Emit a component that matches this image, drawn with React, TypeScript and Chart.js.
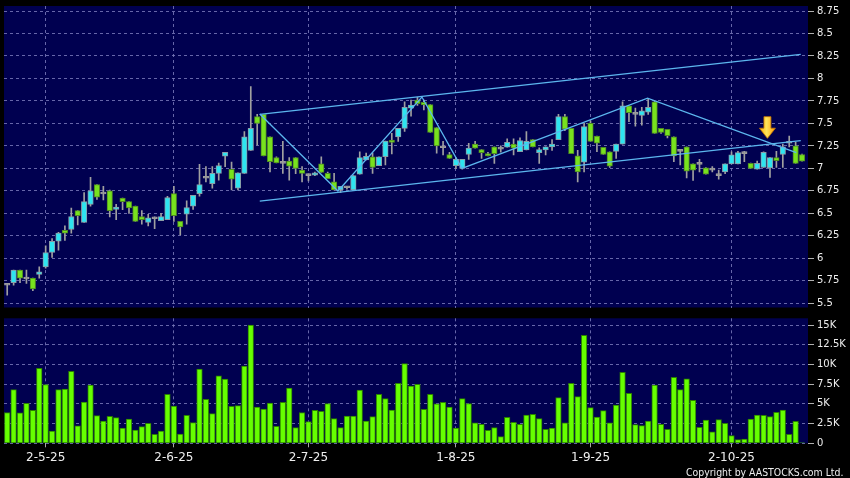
import React, { useEffect, useRef } from "react";
import { Chart, registerables } from "chart.js";

Chart.register(...registerables);

// ---------- data ----------
const dateLabels = ["2-5-25", "2-6-25", "2-7-25", "1-8-25", "1-9-25", "2-10-25"];
const dateIndex = [6, 26, 47, 70, 91, 113];

const opens = [
  5.70, 5.73, 5.87, 5.77, 5.78, 5.82, 5.905, 6.065, 6.19, 6.31,
  6.32, 6.53, 6.40, 6.60, 6.82, 6.715, 6.75, 6.545, 6.67, 6.63,
  6.58, 6.465, 6.40, 6.44, 6.42, 6.43, 6.72, 6.41, 6.49, 6.58,
  6.72, 6.89, 6.83, 6.945, 7.135, 6.99, 6.78, 6.945, 7.20, 7.575,
  7.60, 7.35, 7.12, 7.055, 7.08, 7.12, 6.98, 6.92, 6.925, 7.05,
  6.945, 6.85, 6.76, 6.785, 6.76, 6.935, 7.095, 7.13, 7.03, 7.13,
  7.315, 7.35, 7.445, 7.67, 7.76, 7.735, 7.71, 7.455, 7.23, 7.155,
  7.03, 7.00, 7.155, 7.27, 7.21, 7.165, 7.24, 7.215, 7.235, 7.27,
  7.185, 7.205, 7.32, 7.175, 7.205, 7.24, 7.32, 7.575, 7.445, 7.14,
  7.07, 7.50, 7.36, 7.235, 7.185, 7.19, 7.27, 7.695, 7.60, 7.59,
  7.625, 7.74, 7.445, 7.435, 7.35, 7.19, 7.24, 7.05, 7.045, 7.005,
  6.98, 6.92, 6.96, 7.05, 7.05, 7.165, 7.055, 6.99, 7.01, 7.005,
  7.12, 7.155, 7.28, 7.25, 7.155,
];
const highs = [
  5.72, 5.87, 5.87, 5.87, 5.78, 5.905, 6.14, 6.22, 6.29, 6.36,
  6.56, 6.53, 6.73, 6.90, 6.82, 6.80, 6.76, 6.60, 6.67, 6.63,
  6.58, 6.53, 6.49, 6.46, 6.50, 6.69, 6.80, 6.41, 6.64, 6.70,
  7.045, 7.02, 7.02, 7.06, 7.18, 7.07, 6.95, 7.41, 7.91, 7.60,
  7.60, 7.35, 7.13, 7.30, 7.12, 7.12, 7.02, 6.94, 6.96, 7.13,
  6.96, 6.945, 6.80, 6.80, 6.92, 7.185, 7.17, 7.17, 7.13, 7.305,
  7.39, 7.445, 7.74, 7.76, 7.79, 7.76, 7.71, 7.455, 7.30, 7.18,
  7.12, 7.10, 7.28, 7.30, 7.21, 7.18, 7.24, 7.25, 7.33, 7.33,
  7.34, 7.41, 7.32, 7.23, 7.24, 7.32, 7.60, 7.60, 7.445, 7.20,
  7.50, 7.53, 7.36, 7.235, 7.185, 7.27, 7.74, 7.695, 7.67, 7.68,
  7.78, 7.75, 7.445, 7.435, 7.35, 7.21, 7.24, 7.05, 7.10, 7.01,
  7.02, 6.98, 7.05, 7.185, 7.19, 7.19, 7.06, 7.08, 7.185, 7.12,
  7.19, 7.27, 7.36, 7.29, 7.16,
];
const lows = [
  5.59, 5.70, 5.73, 5.72, 5.64, 5.78, 5.89, 6.01, 6.09, 6.20,
  6.28, 6.37, 6.40, 6.58, 6.655, 6.65, 6.46, 6.43, 6.54, 6.50,
  6.41, 6.38, 6.36, 6.33, 6.42, 6.43, 6.41, 6.26, 6.38, 6.545,
  6.69, 6.85, 6.78, 6.87, 7.02, 6.76, 6.76, 6.945, 7.20, 7.26,
  7.14, 6.96, 7.06, 6.945, 6.87, 6.94, 6.85, 6.86, 6.92, 6.955,
  6.885, 6.76, 6.73, 6.77, 6.76, 6.935, 7.095, 6.945, 7.03, 7.04,
  7.16, 7.30, 7.41, 7.58, 7.70, 7.65, 7.40, 7.17, 7.15, 7.11,
  7.00, 6.99, 7.10, 7.225, 7.11, 7.14, 7.055, 7.18, 7.235, 7.15,
  7.185, 7.205, 7.24, 7.055, 7.15, 7.20, 7.32, 7.42, 7.165, 6.85,
  6.96, 7.30, 7.185, 7.155, 7.01, 7.11, 7.27, 7.52, 7.47, 7.48,
  7.60, 7.39, 7.39, 7.34, 7.075, 7.04, 6.895, 6.865, 6.96, 6.935,
  6.96, 6.88, 6.94, 7.05, 7.05, 7.075, 7.00, 6.99, 7.01, 6.90,
  7.01, 7.01, 7.24, 7.055, 7.08,
];
const closes = [
  5.70, 5.87, 5.78, 5.77, 5.66, 5.85, 6.065, 6.19, 6.28, 6.28,
  6.465, 6.475, 6.63, 6.75, 6.68, 6.715, 6.53, 6.57, 6.63, 6.56,
  6.41, 6.43, 6.45, 6.44, 6.465, 6.675, 6.475, 6.35, 6.565, 6.70,
  6.82, 6.89, 6.945, 7.03, 7.18, 6.88, 6.95, 7.35, 7.445, 7.50,
  7.14, 7.075, 7.06, 7.055, 7.025, 7.00, 6.945, 6.92, 6.95, 6.955,
  6.885, 6.76, 6.80, 6.785, 6.92, 7.12, 7.135, 7.01, 7.13, 7.305,
  7.29, 7.445, 7.68, 7.705, 7.72, 7.705, 7.40, 7.25, 7.23, 7.11,
  7.10, 7.10, 7.225, 7.225, 7.175, 7.14, 7.165, 7.215, 7.29, 7.225,
  7.31, 7.30, 7.24, 7.21, 7.24, 7.27, 7.575, 7.435, 7.165, 6.96,
  7.465, 7.30, 7.28, 7.155, 7.025, 7.27, 7.695, 7.62, 7.60, 7.64,
  7.68, 7.39, 7.40, 7.365, 7.14, 7.19, 6.97, 6.98, 7.045, 6.935,
  6.98, 6.92, 7.05, 7.15, 7.175, 7.165, 7.00, 7.055, 7.18, 7.12,
  7.085, 7.24, 7.28, 7.055, 7.08,
];
// volume in thousands of shares
const volumes = [
  3.9, 6.8, 3.85, 5.07, 4.18, 9.5, 7.43, 1.56, 6.8, 6.88,
  9.12, 2.2, 5.24, 7.39, 3.5, 2.83, 3.42, 3.25, 1.94, 3.08,
  1.69, 2.11, 2.53, 1.14, 1.56, 6.2, 4.73, 1.18, 3.55, 2.62,
  9.42, 5.57, 3.76, 8.57, 8.15, 4.69, 4.77, 9.8, 15.0, 4.6,
  4.35, 5.1, 2.15, 5.2, 7.0, 1.98, 3.9, 2.74, 4.18, 4.05,
  5.03, 3.13, 1.98, 3.46, 3.46, 6.76, 2.83, 3.38, 6.2, 5.66,
  4.22, 7.6, 10.1, 7.26, 7.47, 4.3, 6.2, 5.0, 5.2, 4.6,
  1.94, 5.66, 5.03, 2.58, 2.4, 1.65, 1.98, 0.84, 3.3, 2.66,
  2.4, 3.59, 3.67, 3.13, 1.77, 1.94, 5.79, 2.58, 7.6, 5.91,
  13.7, 4.52, 3.34, 4.14, 2.58, 4.86, 9.0, 6.33, 2.36, 2.24,
  2.83, 7.39, 2.4, 1.77, 8.36, 6.8, 8.19, 5.45, 2.03, 2.96,
  1.44, 3.0, 2.53, 0.97, 0.46, 0.55, 3.08, 3.59, 3.55, 3.38,
  3.93, 4.22, 1.14, 2.79, 0.05,
];

const priceTicks = [5.5, 5.75, 6, 6.25, 6.5, 6.75, 7, 7.25, 7.5, 7.75, 8, 8.25, 8.5, 8.75];
const volumeTicks = [0, 2.5, 5, 7.5, 10, 12.5, 15];

// drawn trend lines (index, price)
const zigzagX = [39.4, 51.6, 64.7, 70.95, 99.9, 123.1];
const zigzagY = [7.605, 6.748, 7.794, 7.0, 7.78, 7.176];
const channelX = [39.4, 123.8];
const channelUpperY = [7.601, 8.268];
const channelLowerY = [6.637, 7.308];

// arrow marker
const arrowX = 118.6;
const arrowTopY = 7.575;
const arrowTipY = 7.334;

// ---------- style / layout ----------
const FONT = "'DejaVu Sans', Verdana, sans-serif";
const NAVY = "#000050";
const GRID = "rgba(120,120,185,0.85)";
const TEXT = "#eeeeee";
const LINE = "#5cb6ee";
const X_MIN = -0.5;
const X_MAX = 124.93;
const PRICE_MIN = 5.453;
const PRICE_MAX = 8.806;
const VOL_MIN = 0;
const VOL_MAX = 15.85;

const navyPlugin = {
  id: "navyArea",
  beforeDraw(chart: any) {
    const { ctx, chartArea: a } = chart;
    ctx.save();
    ctx.fillStyle = NAVY;
    ctx.fillRect(a.left, a.top, a.right - a.left, a.bottom - a.top);
    ctx.restore();
  },
};

const arrowPlugin = {
  id: "arrowMark",
  afterDatasetsDraw(chart: any) {
    const { ctx } = chart;
    const xs = chart.scales.x;
    const ys = chart.scales.y;
    const px = xs.getPixelForValue(arrowX);
    const top = ys.getPixelForValue(arrowTopY);
    const tip = ys.getPixelForValue(arrowTipY);
    const headH = (tip - top) * 0.47;
    const sw = 3.5;
    const hw = 8;
    ctx.save();
    const g = ctx.createLinearGradient(px - hw, 0, px + hw, 0);
    g.addColorStop(0, "#ffb000");
    g.addColorStop(0.45, "#ffe45a");
    g.addColorStop(1, "#ff9a00");
    ctx.beginPath();
    ctx.moveTo(px - sw, top);
    ctx.lineTo(px + sw, top);
    ctx.lineTo(px + sw, tip - headH);
    ctx.lineTo(px + hw, tip - headH);
    ctx.lineTo(px, tip);
    ctx.lineTo(px - hw, tip - headH);
    ctx.lineTo(px - sw, tip - headH);
    ctx.closePath();
    ctx.fillStyle = g;
    ctx.fill();
    ctx.strokeStyle = "#c87800";
    ctx.lineWidth = 0.8;
    ctx.stroke();
    ctx.restore();
  },
};

function xAxis(showLabels: boolean, height: number) {
  return {
    type: "linear",
    min: X_MIN,
    max: X_MAX,
    offset: false,
    afterBuildTicks: (s: any) => {
      s.ticks = dateIndex.map((v) => ({ value: v }));
    },
    afterFit: (s: any) => {
      s.paddingLeft = 0;
      s.paddingRight = 0;
      s.height = height;
    },
    border: { display: false, dash: [3, 3] },
    grid: {
      offset: false,
      color: GRID,
      lineWidth: 1,
      drawTicks: showLabels,
      tickLength: 4,
      tickColor: "#a8a8a8",
      tickWidth: 1,
    },
    ticks: {
      display: showLabels,
      autoSkip: false,
      maxRotation: 0,
      minRotation: 0,
      padding: 3,
      color: TEXT,
      font: { family: FONT, size: 12 },
      callback: (v: any) => {
        const k = dateIndex.indexOf(v);
        return k >= 0 ? dateLabels[k] : "";
      },
    },
  };
}

function yAxis(min: number, max: number, ticks: number[], fmt: (v: number) => string) {
  return {
    position: "right",
    min,
    max,
    afterBuildTicks: (s: any) => {
      s.ticks = ticks.map((v) => ({ value: v }));
    },
    afterFit: (s: any) => {
      s.width = 42;
      s.paddingTop = 0;
      s.paddingBottom = 0;
    },
    border: { display: false, dash: [3, 3] },
    grid: {
      color: GRID,
      lineWidth: 1,
      drawTicks: true,
      tickLength: 6,
      tickColor: "#b0b0b0",
      tickWidth: 1,
    },
    ticks: {
      color: TEXT,
      padding: 3,
      font: { family: FONT, size: 10 },
      callback: (v: any) => fmt(Number(v)),
    },
  };
}

export default function App() {
  const priceRef = useRef<HTMLCanvasElement>(null);
  const volRef = useRef<HTMLCanvasElement>(null);

  useEffect(() => {
    const n = opens.length;
    const bodyFill: string[] = [];
    const bodyBorder: string[] = [];
    for (let i = 0; i < n; i++) {
      if (closes[i] > opens[i]) {
        bodyFill.push("#2ee4f0");
        bodyBorder.push("#8a9ca6");
      } else if (closes[i] < opens[i]) {
        bodyFill.push("#78e21e");
        bodyBorder.push("#4e8a22");
      } else {
        bodyFill.push("#9c9c9c");
        bodyBorder.push("#9c9c9c");
      }
    }
    const idx = opens.map((_, i) => i);

    const lineDs = (xs: number[], ys: number[]) => ({
      type: "line",
      data: xs.map((x, i) => ({ x, y: ys[i] })),
      borderColor: LINE,
      borderWidth: 1.3,
      pointRadius: 0,
      fill: false,
      tension: 0,
      order: 0,
    });

    const priceChart = new Chart(priceRef.current as HTMLCanvasElement, {
      type: "bar",
      data: {
        datasets: [
          {
            type: "bar",
            data: idx.map((i) => ({ x: i, y: [lows[i], highs[i]] })),
            backgroundColor: "#a0a0a0",
            borderWidth: 0,
            barThickness: 1,
            grouped: false,
            order: 3,
          },
          {
            type: "bar",
            data: idx.map((i) => ({ x: i, y: [opens[i], closes[i]] })),
            backgroundColor: bodyFill,
            borderColor: bodyBorder,
            borderWidth: 1,
            borderSkipped: false,
            barThickness: 5.5,
            minBarLength: 2,
            grouped: false,
            order: 2,
          },
          lineDs(zigzagX, zigzagY),
          lineDs(channelX, channelUpperY),
          lineDs(channelX, channelLowerY),
        ] as any,
      },
      options: {
        responsive: false,
        maintainAspectRatio: false,
        animation: false,
        devicePixelRatio: 1,
        layout: { padding: { left: 4, right: 0, top: 6, bottom: 2.5 } },
        plugins: { legend: { display: false }, tooltip: { enabled: false } },
        events: [],
        scales: {
          x: xAxis(false, 0) as any,
          y: yAxis(PRICE_MIN, PRICE_MAX, priceTicks, (v) => String(+v.toFixed(2))) as any,
        },
      },
      plugins: [navyPlugin, arrowPlugin],
    } as any);

    const volChart = new Chart(volRef.current as HTMLCanvasElement, {
      type: "bar",
      data: {
        datasets: [
          {
            data: idx.map((i) => ({ x: i, y: volumes[i] })),
            backgroundColor: "#66ff00",
            borderColor: "#2c8000",
            borderWidth: 1,
            borderSkipped: false,
            barThickness: 5.6,
          },
        ],
      },
      options: {
        responsive: false,
        maintainAspectRatio: false,
        animation: false,
        devicePixelRatio: 1,
        layout: { padding: { left: 4, right: 0, top: 8.3, bottom: 0 } },
        plugins: { legend: { display: false }, tooltip: { enabled: false } },
        events: [],
        scales: {
          x: xAxis(true, 34.7) as any,
          y: yAxis(VOL_MIN, VOL_MAX, volumeTicks, (v) => (v === 0 ? "0" : `${v}K`)) as any,
        },
      },
      plugins: [navyPlugin],
    } as any);

    return () => {
      priceChart.destroy();
      volChart.destroy();
    };
  }, []);

  return (
    <div
      style={{
        position: "fixed",
        left: 0,
        top: 0,
        width: 850,
        height: 478,
        background: "#000",
        overflow: "hidden",
      }}
    >
      <canvas ref={priceRef} width={850} height={310} style={{ position: "absolute", left: 0, top: 0 }} />
      <canvas ref={volRef} width={850} height={168} style={{ position: "absolute", left: 0, top: 310 }} />
      <div
        style={{
          position: "absolute",
          left: 686,
          top: 465,
          color: TEXT,
          font: "10.4px 'DejaVu Sans Condensed', 'DejaVu Sans', sans-serif",
          whiteSpace: "nowrap",
          lineHeight: "14px",
        }}
      >
        Copyright by AASTOCKS.com Ltd.
      </div>
    </div>
  );
}
